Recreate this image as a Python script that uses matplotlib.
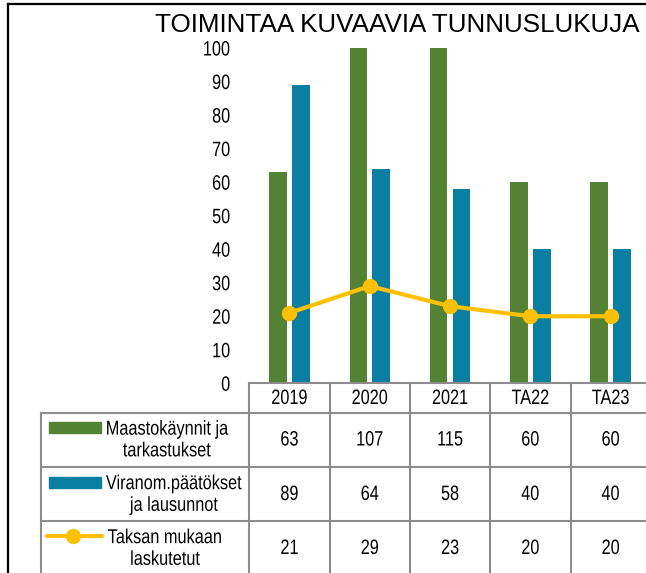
import matplotlib
matplotlib.use("Agg")
import matplotlib.pyplot as plt
from matplotlib.lines import Line2D
from matplotlib.patches import Rectangle
from matplotlib.patheffects import AbstractPathEffect
from matplotlib.transforms import blended_transform_factory, Affine2D

# ---- data ----
categories = ["2019", "2020", "2021", "TA22", "TA23"]
maasto = [63, 107, 115, 60, 60]
viranom = [89, 64, 58, 40, 40]
taksa = [21, 29, 23, 20, 20]
series_labels = ["Maastokäynnit ja\ntarkastukset",
                 "Viranom.päätökset\nja lausunnot",
                 "Taksan mukaan\nlaskutetut"]
title = "TOIMINTAA KUVAAVIA TUNNUSLUKUJA"
yticks = [0, 10, 20, 30, 40, 50, 60, 70, 80, 90, 100]

GREEN = "#548235"
BLUE = "#0A7FA2"
YELLOW = "#FFC000"
GRID = "#8C8C8C"
FONT = ["Liberation Sans", "DejaVu Sans"]


class Narrow(AbstractPathEffect):
    """Horizontally condense glyphs (emulates a narrow typeface)."""

    def __init__(self, sx=0.8, anchor="center"):
        super().__init__()
        self.sx = sx
        self.anchor = anchor

    def draw_path(self, renderer, gc, tpath, affine, rgbFace=None):
        ext = tpath.get_extents(affine)
        if self.anchor == "right":
            cx = ext.x1
        elif self.anchor == "left":
            cx = ext.x0
        else:
            cx = 0.5 * (ext.x0 + ext.x1)
        aff = affine + Affine2D().translate(-cx, 0).scale(self.sx, 1).translate(cx, 0)
        renderer.draw_path(gc, tpath, aff, rgbFace)


W, H = 646, 573
fig = plt.figure(figsize=(W / 100, H / 100), dpi=100)


def fx(x):
    return x / W


def fy(y):
    return 1 - y / H


# axes geometry (pixels)
x0, colw = 249.3, 80.3
ytop, ybot = 48.0, 383.3
ax = fig.add_axes([fx(x0), fy(ybot), colw * 5 / W, (ybot - ytop) / H])
ax.set_xlim(-0.5, 4.5)
ax.set_ylim(0, 100)

xs = list(range(len(categories)))
bw = 0.218
off = 0.142
ax.bar([x - off for x in xs], maasto, width=bw, color=GREEN, zorder=2)
ax.bar([x + off for x in xs], viranom, width=bw, color=BLUE, zorder=2)
ax.plot(xs, taksa, color=YELLOW, lw=3, marker="o", ms=10, zorder=3,
        clip_on=False)

for s in ["top", "right", "left"]:
    ax.spines[s].set_visible(False)
ax.spines["bottom"].set_color(GRID)
ax.spines["bottom"].set_linewidth(1.5)
ax.set_xticks([])
ax.set_yticks(yticks)
ax.tick_params(axis="y", length=0, pad=13.5)
for t in ax.yaxis.get_major_ticks():
    t.label1.set_fontfamily(FONT)
    t.label1.set_fontsize(15)
    t.label1.set_path_effects([Narrow(0.78, "right")])

# title
fig.text(fx(155), fy(32.3), title, fontsize=18.7, family=FONT,
         ha="left", va="baseline")

# outer frame (partially cropped)
fig.add_artist(Line2D([fx(8), fx(8)], [fy(4), fy(H + 5)], color="black", lw=1.6,
                      transform=fig.transFigure))
fig.add_artist(Line2D([fx(8), fx(W + 5)], [fy(4), fy(4)], color="black", lw=1.6,
                      transform=fig.transFigure))

# ---- data table ----
bt = blended_transform_factory(ax.transData, fig.transFigure)
row_lines = [412.5, 466.5, 521.0]
row_centers = [440.0, 494.5, 548.5]
label_cx = [167, 174, 165]
header_c = 398.5
tbl_left = 40.7

for i in range(len(categories) + 1):
    fig.add_artist(Line2D([i - 0.5, i - 0.5], [fy(ybot), fy(H + 5)], color=GRID,
                          lw=1.5, transform=bt, clip_on=False))
fig.add_artist(Line2D([fx(tbl_left), fx(tbl_left)], [fy(412.5), fy(H + 5)], color=GRID,
                      lw=1.5, transform=fig.transFigure))
for yl in row_lines:
    fig.add_artist(Line2D([fx(tbl_left), fx(W + 5)], [fy(yl), fy(yl)], color=GRID,
                          lw=1.5, transform=fig.transFigure))

num_fx = [Narrow(0.78, "center")]
for i, c in enumerate(categories):
    fig.text(i, fy(header_c), c, transform=bt, ha="center", va="center",
             fontsize=15, family=FONT, path_effects=num_fx)
for row, vals in enumerate([maasto, viranom, taksa]):
    for i, v in enumerate(vals):
        fig.text(i, fy(row_centers[row]), str(v), transform=bt, ha="center",
                 va="center", fontsize=15, family=FONT, path_effects=num_fx)
    fig.text(fx(label_cx[row]), fy(row_centers[row]), series_labels[row], ha="center",
             va="center", multialignment="center", fontsize=14.5, family=FONT,
             linespacing=1.18, path_effects=[Narrow(0.81, "center")])

# legend keys
fig.add_artist(Rectangle((fx(49), fy(433)), fx(52), 11 / H, color=GREEN,
                         transform=fig.transFigure))
fig.add_artist(Rectangle((fx(49), fy(488)), fx(52), 11 / H, color=BLUE,
                         transform=fig.transFigure))
fig.add_artist(Line2D([fx(47), fx(102)], [fy(536), fy(536)], color=YELLOW, lw=3,
                      transform=fig.transFigure, solid_capstyle="round"))
fig.add_artist(Line2D([fx(72.7)], [fy(536)], color=YELLOW, marker="o", ms=10,
                      transform=fig.transFigure))

fig.savefig("out.png", dpi=100)
